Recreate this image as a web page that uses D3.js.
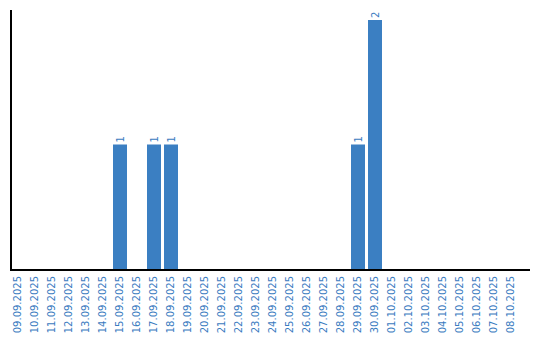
<!DOCTYPE html>
<html>
<head>
<meta charset="utf-8">
<script src="https://cdn.jsdelivr.net/npm/d3@7"></script>
<style>
  body { margin: 0; background: #fff; }
  text { font-family: "DejaVu Sans", Verdana, sans-serif; }
</style>
</head>
<body>
<script>
// dates shown on the x axis
var dates = ["09.09.2025", "10.09.2025", "11.09.2025", "12.09.2025", "13.09.2025",
  "14.09.2025", "15.09.2025", "16.09.2025", "17.09.2025", "18.09.2025",
  "19.09.2025", "20.09.2025", "21.09.2025", "22.09.2025", "23.09.2025",
  "24.09.2025", "25.09.2025", "26.09.2025", "27.09.2025", "28.09.2025",
  "29.09.2025", "30.09.2025", "01.10.2025", "02.10.2025", "03.10.2025",
  "04.10.2025", "05.10.2025", "06.10.2025", "07.10.2025", "08.10.2025"];
// counts per day
var counts = [0, 0, 0, 0, 0, 0, 1, 0, 1, 1, 0, 0, 0, 0, 0, 0, 0, 0, 0, 0, 1, 2, 0, 0, 0, 0, 0, 0, 0, 0];
var yMax = 2;

var w = 540, h = 340;
var barColor = "#3b7fc2";
var textColor = "#3a7bbf";

var data = dates.map(function(d, i) { return {date: d, n: counts[i]}; });

var svg = d3.select("body").append("svg")
  .attr("width", w)
  .attr("height", h);

var x = d3.scaleBand()
  .domain(dates)
  .range([11, 518])
  .paddingInner(3 / 17)
  .paddingOuter(0);

var y = d3.scaleLinear()
  .domain([0, yMax])
  .range([269, 20]);

// bars
svg.selectAll("rect.bar")
  .data(data.filter(function(d) { return d.n > 0; }))
  .enter().append("rect")
  .attr("class", "bar")
  .attr("x", function(d) { return x(d.date); })
  .attr("y", function(d) { return y(d.n); })
  .attr("width", x.bandwidth())
  .attr("height", function(d) { return y(0) - y(d.n); })
  .attr("fill", barColor);

// value labels, rotated above the bars
svg.selectAll("text.val")
  .data(data.filter(function(d) { return d.n > 0; }))
  .enter().append("text")
  .attr("class", "val")
  .attr("transform", function(d) {
    return "translate(" + (x(d.date) + x.bandwidth() / 2) + "," + (y(d.n) - 2) + ") rotate(-90)";
  })
  .attr("dy", "0.35em")
  .attr("text-anchor", "start")
  .attr("font-size", 10)
  .attr("fill", textColor)
  .text(function(d) { return d.n; });

// x axis labels
var xAxis = d3.axisBottom(x).tickSize(0).tickPadding(0);
var gx = svg.append("g")
  .attr("transform", "translate(0,276)")
  .call(xAxis);
gx.select(".domain").remove();
gx.selectAll("text")
  .attr("font-size", 10)
  .attr("fill", textColor)
  .attr("text-anchor", "end")
  .attr("transform", "translate(-1,0) rotate(-90)")
  .attr("x", 0)
  .attr("y", 0)
  .attr("dy", "0.35em");

// axis lines
svg.append("line")
  .attr("x1", 10).attr("x2", 530)
  .attr("y1", 270).attr("y2", 270)
  .attr("stroke", "#000").attr("stroke-width", 2);
svg.append("line")
  .attr("x1", 11).attr("x2", 11)
  .attr("y1", 10).attr("y2", 271)
  .attr("stroke", "#000").attr("stroke-width", 2);
</script>
</body>
</html>
